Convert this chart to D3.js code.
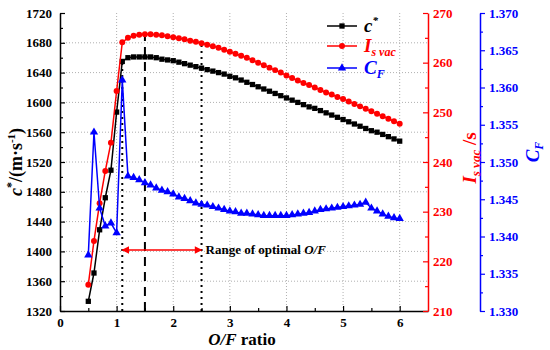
<!DOCTYPE html>
<html>
<head>
<meta charset="utf-8">
<script src="https://cdn.jsdelivr.net/npm/d3@7"></script>
<style>
  body { margin: 0; background: #fff; }
  svg { font-family: "Liberation Serif", "Times New Roman", serif; font-weight: bold; }
</style>
</head>
<body>
<div id="chart"></div>
<script>
var width = 550;
var height = 350;
var plotLeft = 60, plotRight = 428, plotTop = 13, plotBottom = 311;

// O/F ratio
var ofRatio = [0.5, 0.6, 0.7, 0.8, 0.9, 1.0, 1.1, 1.2, 1.3, 1.4, 1.5, 1.6, 1.7, 1.8, 1.9, 2.0,
  2.1, 2.2, 2.3, 2.4, 2.5, 2.6, 2.7, 2.8, 2.9, 3.0, 3.1, 3.2, 3.3, 3.4, 3.5, 3.6, 3.7, 3.8, 3.9, 4.0,
  4.1, 4.2, 4.3, 4.4, 4.5, 4.6, 4.7, 4.8, 4.9, 5.0, 5.1, 5.2, 5.3, 5.4, 5.5, 5.6, 5.7, 5.8, 5.9, 6.0];
// c* (m/s)
var cStar = [1333, 1371, 1429, 1472, 1509, 1587, 1655, 1660, 1661, 1661, 1661, 1661, 1660, 1658, 1657, 1656,
  1654, 1652, 1650, 1648, 1646, 1644, 1642, 1640, 1638, 1635, 1633, 1630, 1627, 1624, 1621, 1618, 1615, 1612, 1609, 1606,
  1603, 1600, 1597, 1594, 1592, 1589, 1586, 1583, 1580, 1577, 1574, 1571, 1568, 1565, 1562, 1560, 1557, 1554, 1551, 1548];
// Is vac (s)
var isVac = [215.3, 224.1, 231.7, 238.2, 243.9, 254.3, 264.1, 265.0, 265.4, 265.6, 265.7, 265.7, 265.6, 265.5, 265.3, 265.1,
  264.9, 264.7, 264.4, 264.2, 263.9, 263.6, 263.3, 263.0, 262.6, 262.2, 261.8, 261.4, 261.0, 260.5, 260.0, 259.5, 259.0, 258.5, 258.0, 257.4,
  256.9, 256.4, 255.9, 255.5, 255.0, 254.5, 254.0, 253.6, 253.1, 252.7, 252.2, 251.7, 251.2, 250.7, 250.2, 249.7, 249.2, 248.7, 248.2, 247.7];
// CF
var cF = [1.3375, 1.3540, 1.3438, 1.3414, 1.3418, 1.3405, 1.3610, 1.3481, 1.3479, 1.3476, 1.3472, 1.3469, 1.3465, 1.3462, 1.3460, 1.3457,
  1.3453, 1.3451, 1.3448, 1.3445, 1.3443, 1.3442, 1.3440, 1.3438, 1.3436, 1.3434, 1.3433, 1.3431, 1.3431, 1.3430, 1.3429, 1.3428, 1.3428, 1.3428, 1.3428, 1.3428,
  1.3429, 1.3430, 1.3431, 1.3432, 1.3434, 1.3436, 1.3437, 1.3438, 1.3439, 1.3440, 1.3441, 1.3442, 1.3443, 1.3446, 1.3438, 1.3434, 1.3430, 1.3427, 1.3425, 1.3424];

var xTicks = [0, 1, 2, 3, 4, 5, 6];
var leftTicks = [1320, 1360, 1400, 1440, 1480, 1520, 1560, 1600, 1640, 1680, 1720];
var redTicks = [210, 220, 230, 240, 250, 260, 270];
var blueTicks = [1.330, 1.335, 1.340, 1.345, 1.350, 1.355, 1.360, 1.365, 1.370];

// optimal range markers
var optLow = 1.1, optPeak = 1.5, optHigh = 2.5;
var arrowLevel = 1402;

var svg = d3.select("#chart").append("svg")
  .attr("width", width)
  .attr("height", height);

var x = d3.scaleLinear().domain([0, 6.5]).range([plotLeft, plotRight]);
var yL = d3.scaleLinear().domain([1320, 1720]).range([plotBottom, plotTop]);
var yR = d3.scaleLinear().domain([210, 270]).range([plotBottom, plotTop]);
var yB = d3.scaleLinear().domain([1.330, 1.370]).range([plotBottom, plotTop]);

// grid
svg.append("g").selectAll("line").data(leftTicks.slice(1, -1)).enter().append("line")
  .attr("x1", plotLeft).attr("x2", plotRight)
  .attr("y1", d => yL(d)).attr("y2", d => yL(d))
  .attr("stroke", "#b0b0b0").attr("stroke-dasharray", "1,2");
svg.append("g").selectAll("line").data(xTicks.slice(1)).enter().append("line")
  .attr("x1", d => x(d)).attr("x2", d => x(d))
  .attr("y1", plotTop).attr("y2", plotBottom)
  .attr("stroke", "#b0b0b0").attr("stroke-dasharray", "1,2");

function styleAxis(g, color, size) {
  g.selectAll("path").attr("stroke", color).attr("stroke-width", 1.5);
  g.selectAll("line").attr("stroke", color).attr("stroke-width", 1.2);
  g.attr("font-size", size).attr("font-family", "Liberation Serif").attr("font-weight", "bold");
  g.selectAll("text").attr("fill", color);
}

function addAxis(axisFn, scale, pos, isX, minorVals, majorVals, size, pad, fmt, color) {
  var tr = isX ? "translate(0," + pos + ")" : "translate(" + pos + ",0)";
  var gm = svg.append("g").attr("transform", tr);
  gm.call(axisFn(scale).tickValues(minorVals).tickSize(size / 5 * 3).tickSizeOuter(0).tickFormat(""));
  gm.select(".domain").remove();
  styleAxis(gm, color, 13);
  var g = svg.append("g").attr("transform", tr);
  g.call(axisFn(scale).tickValues(majorVals).tickSize(size).tickSizeOuter(0).tickPadding(pad).tickFormat(fmt));
  styleAxis(g, color, 13);
}

addAxis(d3.axisBottom, x, plotBottom, true, [0.5, 1.5, 2.5, 3.5, 4.5, 5.5], xTicks, -5, 7, d3.format("d"), "#000");
addAxis(d3.axisLeft, yL, plotLeft, false, [1340, 1380, 1420, 1460, 1500, 1540, 1580, 1620, 1660, 1700], leftTicks, -5, 8, d3.format("d"), "#000");
addAxis(d3.axisRight, yR, plotRight, false, [215, 225, 235, 245, 255, 265], redTicks, -5, 5, d3.format("d"), "#ff0000");
addAxis(d3.axisRight, yB, 480, false, [1.3325, 1.3375, 1.3425, 1.3475, 1.3525, 1.3575, 1.3625, 1.3675], blueTicks, 5, 4, d3.format(".3f"), "#0000ff");

// reference lines
function idx(v) { return ofRatio.findIndex(d => Math.abs(d - v) < 1e-9); }
var refs = [
  { v: optLow, end: yL(cStar[idx(optLow)]), dash: "2,4" },
  { v: optPeak, end: yR(isVac[idx(optPeak)]), dash: "9,6" },
  { v: optHigh, end: yR(isVac[idx(optHigh)]), dash: "2,4" }
];
svg.append("g").selectAll("line").data(refs).enter().append("line")
  .attr("x1", d => x(d.v)).attr("x2", d => x(d.v))
  .attr("y1", plotBottom).attr("y2", d => d.end)
  .attr("stroke", "#000").attr("stroke-width", 2)
  .attr("stroke-dasharray", d => d.dash);

// arrow
var defs = svg.append("defs");
defs.append("marker").attr("id", "ah").attr("viewBox", "0 0 10 10")
  .attr("refX", 9).attr("refY", 5).attr("markerWidth", 6).attr("markerHeight", 5)
  .attr("orient", "auto-start-reverse")
  .append("path").attr("d", "M0,0L10,5L0,10z").attr("fill", "#ff0000");
svg.append("line")
  .attr("x1", x(optLow)).attr("x2", x(optHigh))
  .attr("y1", yL(arrowLevel)).attr("y2", yL(arrowLevel))
  .attr("stroke", "#ff0000").attr("stroke-width", 1.5)
  .attr("marker-start", "url(#ah)").attr("marker-end", "url(#ah)");
var rt = svg.append("text").attr("x", x(optHigh) + 4).attr("y", yL(arrowLevel) + 4.5)
  .style("font-size", "13px").attr("fill", "#000");
rt.append("tspan").text("Range of optimal ");
rt.append("tspan").style("font-style", "italic").text("O/F");

// series
var series = [
  { vals: cStar, y: yL, color: "#000000", shape: d3.symbolSquare, size: 28 },
  { vals: isVac, y: yR, color: "#ff0000", shape: d3.symbolCircle, size: 28 },
  { vals: cF, y: yB, color: "#0000ff", shape: d3.symbolTriangle, size: 30 }
];
series.forEach(function(s) {
  var pts = ofRatio.map((d, i) => [d, s.vals[i]]);
  svg.append("path").datum(pts)
    .attr("fill", "none").attr("stroke", s.color).attr("stroke-width", 1.5)
    .attr("d", d3.line().x(d => x(d[0])).y(d => s.y(d[1])));
  svg.append("g").selectAll("path").data(pts).enter().append("path")
    .attr("transform", d => "translate(" + x(d[0]) + "," + s.y(d[1]) + ")")
    .attr("d", d3.symbol().type(s.shape).size(s.size))
    .attr("fill", s.color);
});

// legend
var legendRows = [
  { color: "#000000", shape: d3.symbolSquare, size: 28, y: 26 },
  { color: "#ff0000", shape: d3.symbolCircle, size: 28, y: 46 },
  { color: "#0000ff", shape: d3.symbolTriangle, size: 30, y: 68 }
];
var lg = svg.append("g");
legendRows.forEach(function(r) {
  lg.append("line").attr("x1", 327).attr("x2", 357).attr("y1", r.y).attr("y2", r.y)
    .attr("stroke", r.color).attr("stroke-width", 1.5);
  lg.append("path").attr("transform", "translate(342," + r.y + ")")
    .attr("d", d3.symbol().type(r.shape).size(r.size)).attr("fill", r.color);
});
var l1 = lg.append("text").attr("x", 364).attr("y", legendRows[0].y + 6).style("font-size", "19px").style("font-style", "italic").attr("fill", "#000");
l1.append("tspan").text("c");
l1.append("tspan").attr("dy", -8).style("font-size", "11px").text("*");
var l2 = lg.append("text").attr("x", 364).attr("y", legendRows[1].y + 6).style("font-size", "19px").style("font-style", "italic").attr("fill", "#ff0000");
l2.append("tspan").text("I");
l2.append("tspan").attr("dy", 4).style("font-size", "12px").text("s vac");
var l3 = lg.append("text").attr("x", 364).attr("y", legendRows[2].y + 6).style("font-size", "19px").style("font-style", "italic").attr("fill", "#0000ff");
l3.append("tspan").text("C");
l3.append("tspan").attr("dy", 4).style("font-size", "12px").text("F");

// axis titles
var xt = svg.append("text").attr("x", 242).attr("y", 345).attr("text-anchor", "middle").style("font-size", "17px");
xt.append("tspan").style("font-style", "italic").text("O/F");
xt.append("tspan").text(" ratio");

var ylt = svg.append("text").attr("transform", "translate(22,162) rotate(-90)").attr("text-anchor", "middle").style("font-size", "18px");
ylt.append("tspan").style("font-style", "italic").text("c");
ylt.append("tspan").attr("dy", -7).style("font-size", "12px").text("*");
ylt.append("tspan").attr("dy", 7).text("/(m\u00b7s");
ylt.append("tspan").attr("dy", -7).style("font-size", "11px").text("-1");
ylt.append("tspan").attr("dy", 7).text(")");

var yrt = svg.append("text").attr("transform", "translate(476,158) rotate(-90)").attr("text-anchor", "middle").style("font-size", "19px").attr("fill", "#ff0000");
yrt.append("tspan").style("font-style", "italic").text("I");
yrt.append("tspan").attr("dy", 4).style("font-style", "italic").style("font-size", "13px").text("s vac");
yrt.append("tspan").attr("dy", -4).text(" /s");

var ybt = svg.append("text").attr("transform", "translate(539,152) rotate(-90)").attr("text-anchor", "middle").style("font-size", "19px").style("font-style", "italic").attr("fill", "#0000ff");
ybt.append("tspan").text("C");
ybt.append("tspan").attr("dy", 4).style("font-size", "12px").text("F");
</script>
</body>
</html>
